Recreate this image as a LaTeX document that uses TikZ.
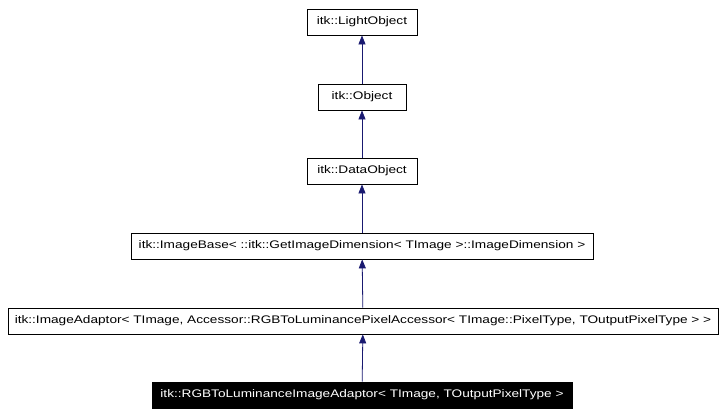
\documentclass[tikz,border=0pt]{standalone}
\usepackage{fontspec}
\setmainfont{Liberation Sans}[FakeStretch=1.24]
\usetikzlibrary{arrows.meta}
\definecolor{edge}{HTML}{191970}
\begin{document}
\begin{tikzpicture}[x=1pt,y=-1pt,
  box/.style={draw=black,fill=white,line width=0.8pt,inner sep=0pt,minimum height=26pt,font=\fontsize{11}{13}\selectfont},
  inh/.style={draw=edge,line width=0.8pt,-{Triangle[width=7pt,length=9pt,fill=edge]}}]
\useasboundingbox (0,0) rectangle (724,415);
\node[box,minimum width=110pt] (lo) at (362,22) {itk::LightObject};
\node[box,minimum width=88pt] (ob) at (362,97) {itk::Object};
\node[box,minimum width=110pt] (do) at (362,171) {itk::DataObject};
\node[box,minimum width=462pt] (ib) at (362,246) {itk::ImageBase< ::itk::GetImageDimension< TImage >::ImageDimension >};
\node[box,minimum width=710pt] (ia) at (363,321) {itk::ImageAdaptor< TImage, Accessor::RGBToLuminancePixelAccessor< TImage::PixelType, TOutputPixelType > >};
\node[box,fill=black,text=white,minimum width=420pt] (rg) at (362,395) {itk::RGBToLuminanceImageAdaptor< TImage, TOutputPixelType >};
\draw[inh] (ob) -- (lo);
\draw[inh] (do) -- (ob);
\draw[inh] (ib) -- (do);
\draw[inh] (ia) -- (ib);
\draw[inh] (rg) -- (ia);
\end{tikzpicture}
\end{document}
